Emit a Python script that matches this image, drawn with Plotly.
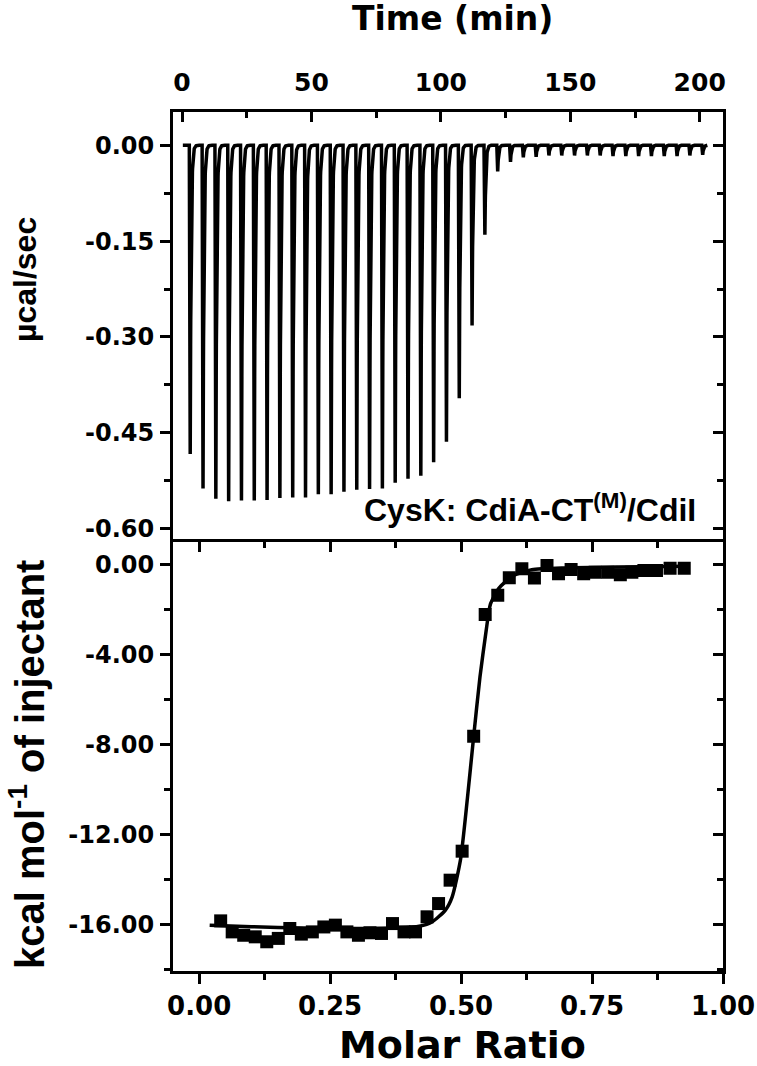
import numpy as np
import plotly.graph_objects as go

# ---------------- data ----------------
time_ticks = [0, 50, 100, 150, 200]
time_minor = [25, 75, 125, 175]

inj_times = [2.80, 7.75, 12.70, 17.65, 22.60, 27.55, 32.50, 37.45, 42.40, 47.35,
             52.30, 57.25, 62.20, 67.15, 72.10, 77.05, 82.00, 86.95, 91.90, 96.85,
             101.80, 106.75, 111.70, 116.65, 121.60, 126.55, 131.50, 136.45, 141.40, 146.35,
             151.30, 156.25, 161.20, 166.15, 171.10, 176.05, 181.00, 185.95, 190.90, 195.85,
             200.80]
peak_depths = [-0.483, -0.537, -0.553, -0.557, -0.556, -0.556, -0.555, -0.552, -0.551, -0.551,
               -0.546, -0.546, -0.542, -0.539, -0.538, -0.537, -0.528, -0.522, -0.517, -0.496,
               -0.464, -0.396, -0.282, -0.140, -0.041, -0.026, -0.019, -0.018, -0.016, -0.016,
               -0.016, -0.016, -0.016, -0.017, -0.017, -0.017, -0.017, -0.017, -0.017, -0.016,
               -0.015]

ucal_ticks = [0.0, -0.15, -0.30, -0.45, -0.60]
ucal_labels = ["0.00", "-0.15", "-0.30", "-0.45", "-0.60"]
ucal_minor = [-0.075, -0.225, -0.375, -0.525]

molar_ratio = [0.041, 0.063, 0.085, 0.107, 0.129, 0.151, 0.173, 0.195, 0.216, 0.238,
               0.260, 0.282, 0.304, 0.326, 0.348, 0.369, 0.391, 0.413, 0.435, 0.457,
               0.479, 0.502, 0.524, 0.546, 0.570, 0.592, 0.616, 0.640, 0.664, 0.686,
               0.710, 0.734, 0.756, 0.780, 0.804, 0.826, 0.849, 0.873, 0.899, 0.926]
heat = [-15.84, -16.33, -16.48, -16.55, -16.77, -16.62, -16.18, -16.43, -16.33, -16.11,
        -16.03, -16.33, -16.48, -16.37, -16.40, -15.96, -16.33, -16.33, -15.66, -15.07,
        -14.03, -12.74, -7.63, -2.21, -1.36, -0.58, -0.18, -0.59, -0.03, -0.40,
        -0.21, -0.40, -0.33, -0.33, -0.44, -0.33, -0.25, -0.25, -0.15, -0.15]

fit_x = [0.02, 0.10, 0.20, 0.30, 0.38, 0.42, 0.445, 0.47, 0.483, 0.499, 0.512, 0.524,
         0.536, 0.548, 0.556, 0.572, 0.585, 0.60, 0.635, 0.70, 0.80, 0.93]
fit_y = [-16.03, -16.10, -16.16, -16.18, -16.15, -16.08, -15.88, -15.36, -14.77, -13.10,
         -10.40, -7.63, -5.00, -2.90, -1.75, -1.05, -0.75, -0.48, -0.22, -0.14, -0.10, -0.07]

kcal_ticks = [0, -4, -8, -12, -16]
kcal_labels = ["0.00", "-4.00", "-8.00", "-12.00", "-16.00"]
kcal_minor = [-2, -6, -10, -14, -18]

mr_ticks = [0.0, 0.25, 0.50, 0.75, 1.00]
mr_labels = ["0.00", "0.25", "0.50", "0.75", "1.00"]
mr_minor = [0.125, 0.375, 0.625, 0.875]


# thermogram drawn from the injection list (peak shape: fast rise, short exponential return)
def thermogram(times, depths, t_start=0.3, t_end=203.0, step=0.05, rise=0.35, tau=0.35):
    t = np.round(np.arange(t_start, t_end, step), 3)
    sig = np.zeros_like(t)
    for t0, d in zip(times, depths):
        s = t - t0
        up = (s >= 0) & (s < rise)
        sig[up] += d * s[up] / rise
        dn = s >= rise
        sig[dn] += d * np.exp(-(s[dn] - rise) / tau)
    return t, sig


t_trace, p_trace = thermogram(inj_times, peak_depths)

WIDE = "DejaVu Sans, Verdana, sans-serif"
ARIAL = "Liberation Sans, Arial, sans-serif"
BLACK = "black"

fig = go.Figure()
fig.add_trace(go.Scatter(x=t_trace, y=p_trace, mode="lines", xaxis="x", yaxis="y",
                         line=dict(color=BLACK, width=3.5), showlegend=False, hoverinfo="skip"))
fig.add_trace(go.Scatter(x=fit_x, y=fit_y, mode="lines", xaxis="x2", yaxis="y2",
                         line=dict(color=BLACK, width=3.5, shape="spline", smoothing=0.6),
                         showlegend=False, hoverinfo="skip"))
fig.add_trace(go.Scatter(x=molar_ratio, y=heat, mode="markers", xaxis="x2", yaxis="y2",
                         marker=dict(symbol="square", size=13, color=BLACK),
                         showlegend=False))
# dummy traces so the mirror-tick axes are drawn
fig.add_trace(go.Scatter(x=[None], y=[None], xaxis="x", yaxis="y3", showlegend=False, hoverinfo="skip"))
fig.add_trace(go.Scatter(x=[None], y=[None], xaxis="x3", yaxis="y2", showlegend=False, hoverinfo="skip"))
fig.add_trace(go.Scatter(x=[None], y=[None], xaxis="x2", yaxis="y4", showlegend=False, hoverinfo="skip"))

common = dict(showgrid=False, zeroline=False, tickcolor=BLACK, tickwidth=3, linecolor=BLACK,
              linewidth=3, automargin=False)
top_font = dict(family=WIDE, size=25, color=BLACK, weight="bold")
left_font = dict(family=WIDE, size=24, color=BLACK, weight="bold")
bot_font = dict(family=WIDE, size=26, color=BLACK, weight="bold")

T_RANGE = [-3.5, 209.0]
U_RANGE = [-0.62, 0.052]
M_RANGE = [-0.05, 1.0]
K_RANGE = [-18.07, 1.035]


def minor(vals, side):
    return dict(tickvals=vals, ticks=side, ticklen=6, tickwidth=3, tickcolor=BLACK)


fig.update_layout(
    width=757, height=1066,
    margin=dict(l=173, r=34, t=112, b=95),
    paper_bgcolor="white", plot_bgcolor="white",
    hovermode=False,
    xaxis=dict(domain=[0, 1], anchor="y", side="top", range=T_RANGE, tickvals=time_ticks,
               ticks="inside", ticklen=10, showline=True, mirror=False, tickfont=top_font,
               ticklabelstandoff=8, minor=minor(time_minor, "inside"), **common),
    yaxis=dict(domain=[0.5, 1], anchor="x", range=U_RANGE, tickvals=ucal_ticks, ticktext=ucal_labels,
               ticks="outside", ticklen=10, showline=True, mirror=True, tickfont=left_font,
               ticklabelstandoff=1, minor=minor(ucal_minor, "outside"), **common),
    yaxis3=dict(overlaying="y", anchor="x", side="right", range=U_RANGE, tickvals=ucal_ticks,
                ticks="inside", ticklen=10, showticklabels=False, showline=False,
                minor=minor(ucal_minor, "inside"), **common),
    xaxis2=dict(domain=[0, 1], anchor="y2", range=M_RANGE, tickvals=mr_ticks, ticktext=mr_labels,
                ticks="outside", ticklen=10, showline=True, mirror=True, tickfont=bot_font,
                ticklabelstandoff=0, minor=minor(mr_minor, "outside"), **common),
    xaxis3=dict(overlaying="x2", anchor="y2", side="top", range=M_RANGE, tickvals=mr_ticks,
                ticks="inside", ticklen=10, showticklabels=False, showline=False,
                minor=minor(mr_minor, "inside"), **common),
    yaxis2=dict(domain=[0, 0.5], anchor="x2", range=K_RANGE, tickvals=kcal_ticks, ticktext=kcal_labels,
                ticks="outside", ticklen=10, showline=True, mirror=True, tickfont=left_font,
                ticklabelstandoff=1, minor=minor(kcal_minor, "outside"), **common),
    yaxis4=dict(overlaying="y2", anchor="x2", side="right", range=K_RANGE, tickvals=kcal_ticks,
                ticks="inside", ticklen=10, showticklabels=False, showline=False,
                minor=minor(kcal_minor, "inside"), **common),
)


def py(pix):
    return (971 - pix) / 859.0


def px(pix):
    return (pix - 173) / 550.0


fig.add_annotation(text="Time (min)", xref="paper", yref="paper", x=px(452), y=py(18),
                   showarrow=False, font=dict(family=WIDE, size=33, color=BLACK, weight="bold"),
                   xanchor="center", yanchor="middle")
fig.add_annotation(text="Molar Ratio", xref="paper", yref="paper", x=px(462), y=py(1045),
                   showarrow=False, font=dict(family=WIDE, size=38, color=BLACK, weight="bold"),
                   xanchor="center", yanchor="middle")
fig.add_annotation(text="µcal/sec", xref="paper", yref="paper", x=px(25), y=py(280),
                   showarrow=False, font=dict(family=ARIAL, size=32, color=BLACK, weight="bold"),
                   textangle=-90, xanchor="center", yanchor="middle")
fig.add_annotation(text="kcal mol<sup>-1</sup> of injectant", xref="paper", yref="paper",
                   x=px(27), y=py(765), showarrow=False,
                   font=dict(family=ARIAL, size=40, color=BLACK, weight="bold"),
                   textangle=-90, xanchor="center", yanchor="middle")
fig.add_annotation(text="CysK: CdiA-CT<sup>(M)</sup>/CdiI", xref="paper", yref="paper",
                   x=px(698), y=py(508), showarrow=False,
                   font=dict(family=ARIAL, size=32, color=BLACK, weight="bold"),
                   xanchor="right", yanchor="middle")

fig.write_html("out.html", config={"displayModeBar": False, "staticPlot": True},
               post_script="document.body.style.margin='0px';")
